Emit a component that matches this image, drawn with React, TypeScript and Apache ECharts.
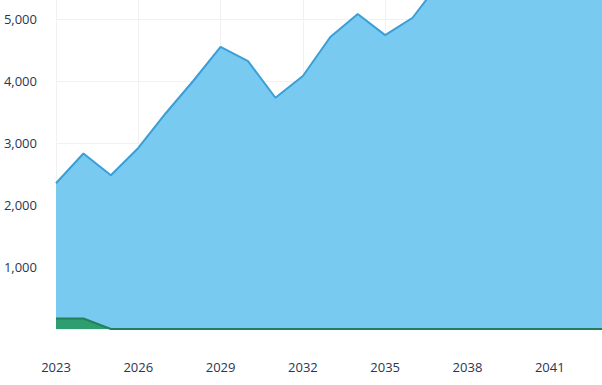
import React, { useEffect, useRef } from "react";
import * as echarts from "echarts";

const years = [
  "2023", "2024", "2025", "2026", "2027", "2028", "2029", "2030", "2031", "2032",
  "2033", "2034", "2035", "2036", "2037", "2038", "2039", "2040", "2041", "2042",
  "2043",
];
const greenValues = [170, 170, 0, 0, 0, 0, 0, 0, 0, 0, 0, 0, 0, 0, 0, 0, 0, 0, 0, 0, 0];
const totalValues = [
  2350, 2830, 2480, 2920, 3480, 4000, 4550, 4320, 3730, 4080,
  4710, 5080, 4740, 5020, 5600, 5900, 6200, 6400, 6600, 6800,
  7000,
];
const blueValues = totalValues.map((v, i) => v - greenValues[i]);
const yMin = 0;
const yMax = 5500;
const yInterval = 1000;

export default function App() {
  const ref = useRef<HTMLDivElement>(null);
  useEffect(() => {
    if (!ref.current) return;
    const chart = echarts.init(ref.current, null, { renderer: "svg" });
    const labelColor = "#2a3552";
    chart.setOption({
      animation: false,
      backgroundColor: "#ffffff",
      grid: { left: 56, right: 95.4, top: 48, bottom: 56, containLabel: false },
      xAxis: {
        type: "category",
        data: years,
        boundaryGap: false,
        axisLine: { show: false },
        axisTick: { show: false },
        axisLabel: {
          interval: 2,
          margin: 31,
          color: labelColor,
          fontSize: 13,
          fontFamily: "Open Sans",
        },
        splitLine: { show: true, interval: 2, lineStyle: { color: "#f1f1f1", width: 1 } },
      },
      yAxis: {
        type: "value",
        min: yMin,
        max: yMax,
        interval: yInterval,
        axisLine: { show: false },
        axisTick: { show: false },
        axisLabel: {
          margin: 19,
          color: labelColor,
          fontSize: 13,
          fontFamily: "Open Sans",
          formatter: (v: number) =>
            v === 0 || v % yInterval !== 0 ? "" : v.toLocaleString("en-US"),
        },
        splitLine: { lineStyle: { color: "#f1f1f1", width: 1 } },
      },
      series: [
        {
          name: "Green",
          type: "line",
          stack: "total",
          data: greenValues,
          symbol: "none",
          lineStyle: { color: "#23805b", width: 2 },
          areaStyle: { color: "#2e9d70", opacity: 1 },
          z: 3,
        },
        {
          name: "Blue",
          type: "line",
          stack: "total",
          data: blueValues,
          symbol: "none",
          lineStyle: { color: "#3a9fd6", width: 2 },
          areaStyle: { color: "#79caf1", opacity: 1 },
          z: 2,
        },
      ],
    });
    return () => chart.dispose();
  }, []);
  return (
    <div
      ref={ref}
      style={{ position: "fixed", left: 0, top: -60, width: 700, height: 445 }}
    />
  );
}
